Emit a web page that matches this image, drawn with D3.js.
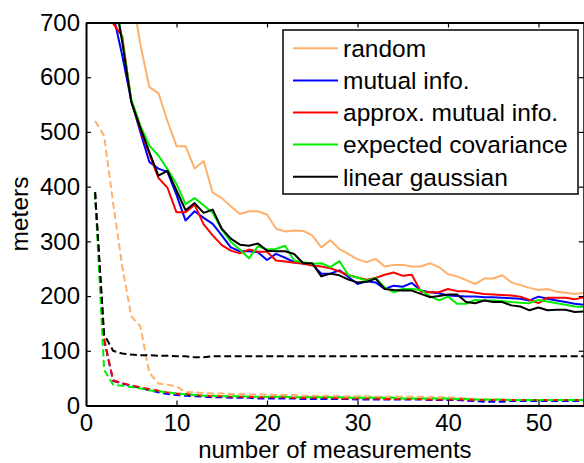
<!DOCTYPE html>
<html>
<head>
<meta charset="utf-8">
<script src="https://cdn.jsdelivr.net/npm/d3@7"></script>
<style>
  body { margin: 0; background: #fff; }
  svg { display: block; font-family: "Liberation Sans", Arial, sans-serif; }
</style>
</head>
<body>
<div id="chart"></div>
<script>
// x values of the solid curves (they start off the top of the chart)
const xSolid = d3.range(3, 56);
const xRandom = d3.range(5, 56);
const xDash = d3.range(1, 56);

// solid: error after measurements
const randomSolid = [760,660,582,571,520,474,474,433,447,389,379,364,350,355,355,349,323,318,320,319,311,289,302,286,277,267,262,268,254,257,257,254,254,260,253,240,236,229,222,232,232,238,225,220,215,211,213,208,206,204,206];
const mutualSolid = [715,640,557,500,445,433,427,385,338,355,343,332,311,289,282,282,280,266,277,270,262,260,258,241,241,247,235,222,227,225,213,219,217,224,210,207,205,201,200,199,199,198,198,197,196,195,192,199,195,192,189,186,184];
const approxSolid = [698,675,556,505,460,416,398,353,353,367,331,311,293,283,278,285,281,281,265,263,261,259,256,254,251,245,238,234,230,233,239,243,237,239,208,207,207,213,209,209,206,204,203,202,201,199,193,187,197,197,197,194,198];
const expcovSolid = [765,668,560,512,475,457,432,405,368,379,366,352,322,299,285,269,291,285,286,292,265,262,259,260,253,264,238,234,228,233,216,207,213,213,211,200,192,199,186,186,193,192,192,191,189,188,187,193,190,187,184,181,180];
const lingauSolid = [760,665,555,508,463,420,429,393,357,370,352,358,323,305,294,292,296,283,282,282,277,260,260,236,241,238,230,225,226,232,213,211,210,210,204,198,200,203,203,189,187,192,189,189,183,181,174,179,174,175,175,171,172];

// dashed curves
const randomDash = [520,493,370,255,163,145,60,40,38,35,24,24,23,22,22,21,21,20,20,20,19,19,19,18,18,18,18,17,17,17,17,16,16,16,16,16,16,15,15,15,14,13,12,11,11,11,10,10,10,10,10,10,10,10,10];
const mutualDash = [390,120,45,40,36,32,28,24,21,19,18,17,16,15,15,14,14,14,13,13,13,13,13,12,12,12,12,12,12,11,11,11,11,11,11,11,11,10,10,10,10,9,8,7,7,7,8,8,8,8,8,8,8,8,8];
const approxDash = [390,122,46,41,37,33,30,27,24,22,21,19,18,17,17,16,16,16,15,15,15,15,14,14,14,14,14,13,13,13,13,13,12,12,12,12,12,11,11,11,11,11,10,10,10,10,10,10,10,10,10,10,10,10,10];
const expcovDash = [390,65,38,36,34,31,28,26,24,22,20,19,18,18,17,17,17,16,16,16,16,16,15,15,15,15,15,15,14,14,14,14,14,14,13,13,13,13,13,13,12,12,11,11,11,11,10,10,10,10,10,10,10,10,10];
const lingauDash = [390,130,100,95,93,92,92,91,91,90,90,88,88,90,90,90,90,90,90,90,90,90,90,90,90,90,90,90,90,90,90,90,90,90,90,90,90,90,90,90,90,90,90,90,90,90,90,90,90,90,90,90,90,90,90];

const names = ["random", "mutual info.", "approx. mutual info.", "expected covariance", "linear gaussian"];
const colors = ["#ffb06a", "#0000ff", "#ff0000", "#00ee00", "#000000"];
const xTicks = [0, 10, 20, 30, 40, 50];
const yTicks = [0, 100, 200, 300, 400, 500, 600, 700];

const width = 584, height = 463;
const plotLeft = 86, plotRight = 583.75, plotTop = 22.5, plotBottom = 405.5;

const svg = d3.select("#chart").append("svg")
  .attr("width", width).attr("height", height);

const x = d3.scaleLinear().domain([0, 55]).range([plotLeft, plotRight]);
const y = d3.scaleLinear().domain([0, 700]).range([plotBottom, plotTop]);

svg.append("clipPath").attr("id", "clip")
  .append("rect").attr("x", plotLeft).attr("y", plotTop)
  .attr("width", plotRight - plotLeft).attr("height", plotBottom - plotTop);

const line = d3.line().x(d => x(d[0])).y(d => y(d[1]));
const zip = (xs, ys) => xs.map((v, i) => [v, ys[i]]);

const solids = [
  zip(xRandom, randomSolid), zip(xSolid, mutualSolid), zip(xSolid, approxSolid),
  zip(xSolid, expcovSolid), zip(xSolid, lingauSolid)
];
const dashes = [randomDash, mutualDash, approxDash, expcovDash, lingauDash].map(s => zip(xDash, s));

const plot = svg.append("g").attr("clip-path", "url(#clip)");

plot.selectAll(".dash").data(dashes).join("path")
  .attr("class", "dash")
  .attr("fill", "none")
  .attr("stroke", (d, i) => colors[i])
  .attr("stroke-width", 2)
  .attr("stroke-dasharray", "7,3.5")
  .attr("d", line);

plot.selectAll(".solid").data(solids).join("path")
  .attr("class", "solid")
  .attr("fill", "none")
  .attr("stroke", (d, i) => colors[i])
  .attr("stroke-width", 2)
  .attr("stroke-linejoin", "round")
  .attr("d", line);

// axes (box with inward ticks)
const style = g => {
  g.select(".domain").attr("stroke", "#000").attr("stroke-width", 2);
  g.selectAll(".tick line").attr("stroke", "#000").attr("stroke-width", 1.2);
  g.selectAll(".tick text").attr("font-size", 24).attr("fill", "#000")
    .attr("font-family", "Liberation Sans, Arial, sans-serif");
};

svg.append("g").attr("transform", `translate(0,${plotBottom})`)
  .call(d3.axisBottom(x).tickValues(xTicks).tickSizeInner(-5).tickSizeOuter(0).tickPadding(8))
  .call(style);
svg.append("g").attr("transform", `translate(0,${plotTop})`)
  .call(d3.axisTop(x).tickValues(xTicks).tickSizeInner(-5).tickSizeOuter(0).tickFormat(""))
  .call(style);
svg.append("g").attr("transform", `translate(${plotLeft},0)`)
  .call(d3.axisLeft(y).tickValues(yTicks).tickSizeInner(-5).tickSizeOuter(0).tickPadding(6))
  .call(style);
svg.append("g").attr("transform", `translate(${plotRight},0)`)
  .call(d3.axisRight(y).tickValues(yTicks).tickSizeInner(-5).tickSizeOuter(0).tickFormat(""))
  .call(style);

svg.append("text")
  .attr("x", (plotLeft + plotRight) / 2).attr("y", 457.5)
  .attr("text-anchor", "middle").attr("font-size", 24)
  .text("number of measurements");

svg.append("text")
  .attr("transform", `translate(28,${(plotTop + plotBottom) / 2}) rotate(-90)`)
  .attr("text-anchor", "middle").attr("font-size", 24.5)
  .text("meters");

// legend
const legend = svg.append("g");
legend.append("rect")
  .attr("x", 283).attr("y", 30).attr("width", 295).attr("height", 164)
  .attr("fill", "#fff").attr("stroke", "#000").attr("stroke-width", 1.5);

const rows = legend.selectAll(".row").data(names).join("g")
  .attr("class", "row")
  .attr("transform", (d, i) => `translate(0,${48.3 + i * 32.1})`);
rows.append("line")
  .attr("x1", 293).attr("x2", 338)
  .attr("stroke", (d, i) => colors[i]).attr("stroke-width", 2);
rows.append("text")
  .attr("x", 343).attr("dy", "0.36em")
  .attr("font-size", 24.5)
  .text(d => d);
</script>
</body>
</html>
